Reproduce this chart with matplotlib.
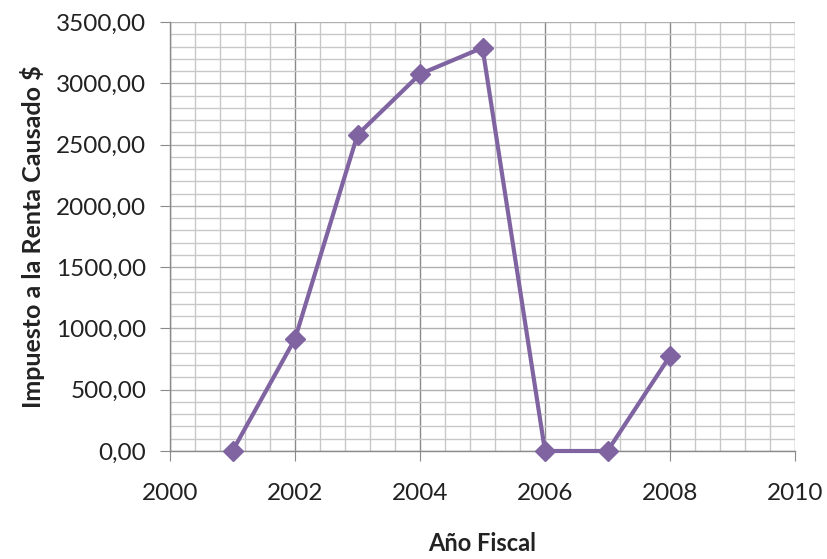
import matplotlib
matplotlib.use("Agg")
import matplotlib.pyplot as plt
from matplotlib.ticker import MultipleLocator, FuncFormatter

years = [2001, 2002, 2003, 2004, 2005, 2006, 2007, 2008]
impuesto = [0, 915, 2580, 3075, 3290, 0, 0, 775]

plt.rcParams['font.family'] = ['Lato', 'DejaVu Sans']

fig = plt.figure(figsize=(8.27, 5.59), dpi=100)
ax = fig.add_axes([170/827, 1-451/559, (795-170)/827, (451-22)/559])

ax.plot(years, impuesto, color='#8064A2', lw=3.0, marker='D', ms=10, zorder=3, clip_on=False)

ax.set_xlim(2000, 2010)
ax.set_ylim(0, 3500)
ax.xaxis.set_major_locator(MultipleLocator(2))
ax.xaxis.set_minor_locator(MultipleLocator(0.4))
ax.yaxis.set_major_locator(MultipleLocator(500))
ax.yaxis.set_minor_locator(MultipleLocator(100))
ax.yaxis.set_major_formatter(FuncFormatter(lambda v, p: f"{v:.2f}".replace('.', ',')))

ax.grid(which='minor', color='#c8c8c8', lw=1.0)
ax.grid(which='major', axis='y', color='#b0b0b0', lw=1.0)
ax.grid(which='major', axis='x', color='#8a8a8a', lw=1.0)
ax.set_axisbelow(True)

for s in ['top', 'right']:
    ax.spines[s].set_visible(False)
for s in ['left', 'bottom']:
    ax.spines[s].set_color('#8a8a8a')
    ax.spines[s].set_linewidth(1.0)

ax.tick_params(which='major', direction='out', length=7, color='#8a8a8a', labelsize=17.5, pad=10,
               labelcolor='#222222')
ax.tick_params(axis='x', pad=16)
ax.tick_params(which='minor', length=0)

ax.set_xlabel('Año Fiscal', fontsize=17, fontweight='bold', labelpad=20, color='#222222')
ax.set_ylabel('Impuesto a la Renta Causado $', fontsize=18, fontweight='bold', labelpad=8,
              color='#222222')

fig.savefig('out.png', dpi=100)
